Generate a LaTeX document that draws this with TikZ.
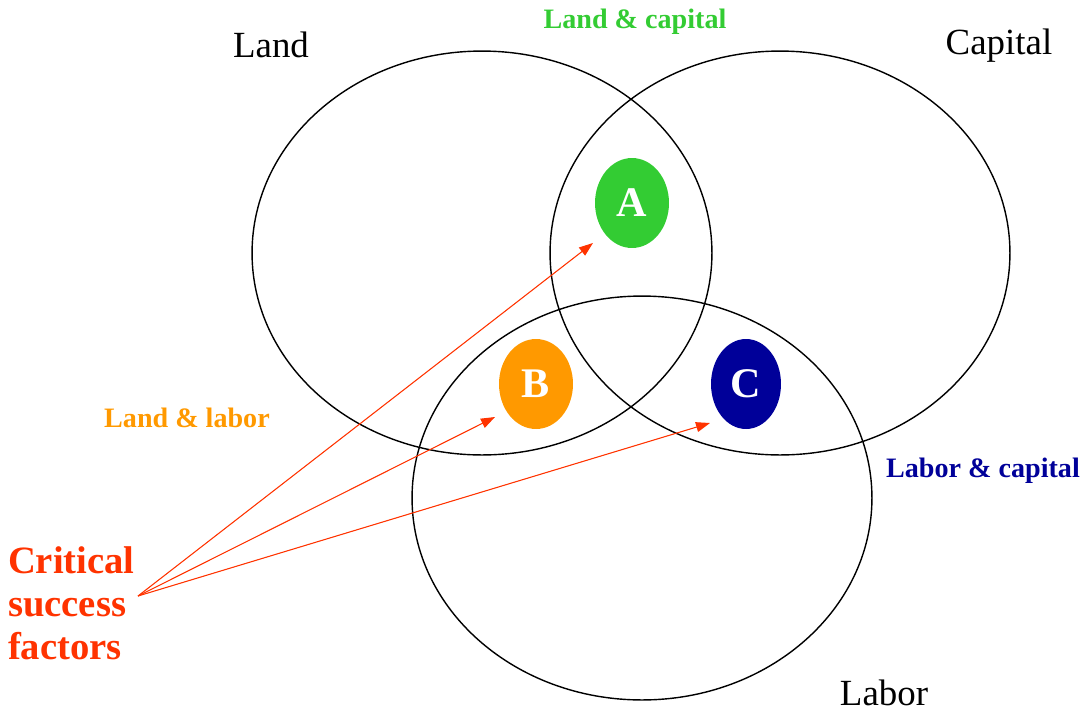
\documentclass[tikz,border=0pt]{standalone}
\usepackage{fontspec}
\setmainfont{Liberation Serif}
\usetikzlibrary{positioning, arrows.meta, calc, shapes.geometric}
\definecolor{cAB}{HTML}{33CC33}
\definecolor{cLL}{HTML}{FF9900}
\definecolor{cLC}{HTML}{000099}
\definecolor{cCsf}{HTML}{FF3300}

\begin{document}
\begin{tikzpicture}[x=0.02cm,y=-0.02cm,
  factor/.style={draw=black,line width=0.8pt,ellipse,minimum width=9.2cm,minimum height=8.08cm},
  blob/.style={ellipse,minimum width=1.48cm,minimum height=1.8cm,text=white,font=\fontsize{24}{28}\selectfont\bfseries,inner sep=0pt},
  flabel/.style={font=\fontsize{21}{25}\selectfont,inner sep=0pt},
  pair/.style={font=\fontsize{16}{19}\selectfont\bfseries,inner sep=0pt},
  arr/.style={-{Triangle[length=2.8mm,width=2mm]},draw=cCsf,fill=cCsf,line width=0.6pt}]
  \useasboundingbox (0,0) rectangle (1086,711);
  \node[factor] (land) at (482,253) {};
  \node[factor] (capital) at (780,253) {};
  \node[factor] (labor) at (642,498) {};
  \node[blob, fill=cAB] (A) at (632,203) {A};
  \node[blob, fill=cLL] (B) at (536,384) {B};
  \node[blob, fill=cLC, minimum width=1.4cm] (C) at (746,384) {C};
  \node[flabel] (tLand) at (271,45) {Land};
  \node[flabel] (tCapital) at (999,46) {Capital};
  \node[flabel] (tLabor) at (884,693) {Labor};
  \node[pair, text=cAB] (tLandCap) at (635,22) {Land \& capital};
  \node[pair, text=cLL] (tLandLab) at (187,418) {Land \& labor};
  \node[pair, text=cLC] (tLabCap) at (983,471) {Labor \& capital};
  \node[font=\fontsize{22}{24.4}\selectfont\bfseries, text=cCsf, align=left, inner sep=0pt, anchor=east] (csf) at (135,603) {Critical\\success\\factors};
  \coordinate (tipA) at (593,243);
  \coordinate (tipB) at (495,417);
  \coordinate (tipC) at (710,423);
  \draw[arr] ($(csf.east)+(3,-7)$) -- (tipA); \draw[arr] ($(csf.east)+(3,-7)$) -- (tipB); \draw[arr] ($(csf.east)+(3,-7)$) -- (tipC);
\end{tikzpicture}
\end{document}
